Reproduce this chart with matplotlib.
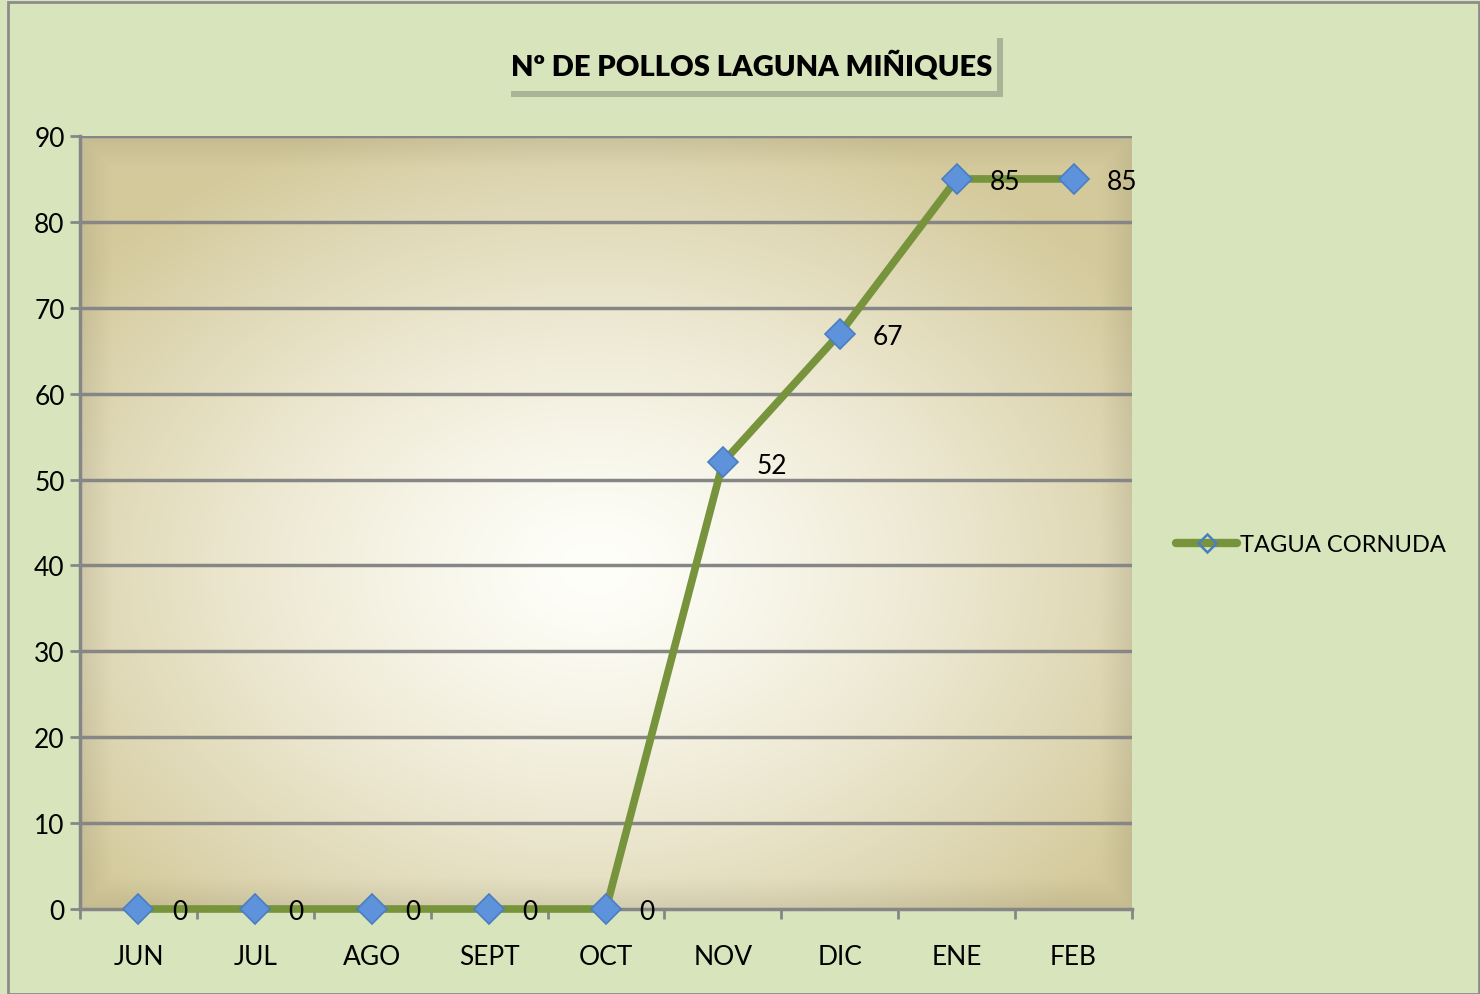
import numpy as np
import matplotlib
matplotlib.use('Agg')
import matplotlib.pyplot as plt
from matplotlib.patches import Rectangle
from matplotlib.lines import Line2D

# data
meses = ['JUN', 'JUL', 'AGO', 'SEPT', 'OCT', 'NOV', 'DIC', 'ENE', 'FEB']
pollos = [0, 0, 0, 0, 0, 52, 67, 85, 85]
serie = 'TAGUA CORNUDA'
titulo = 'Nº DE POLLOS LAGUNA MIÑIQUES'
yticks = [0, 10, 20, 30, 40, 50, 60, 70, 80, 90]

BG = '#D8E4BC'
GREEN = '#77933C'
GRID = '#868686'

plt.rcParams['font.family'] = ['Lato', 'DejaVu Sans']

fig = plt.figure(figsize=(14.8, 9.95), dpi=100, facecolor=BG)

# outer chart border
fig.patches.append(Rectangle((8 / 1480, 0), 1 - 8 / 1480 - 0.001, 1 - 3 / 995,
                             transform=fig.transFigure, fill=False,
                             edgecolor='#8C8C8C', lw=2, zorder=0))

ax = fig.add_axes([80 / 1480, 1 - 910 / 995, 1052 / 1480, 773 / 995])
n = len(meses)
ax.set_xlim(-0.5, n - 0.5)
ax.set_ylim(0, 90)

# radial gradient background of the plot area
ny, nx = 300, 400
gx, gy = np.meshgrid(np.linspace(0, 1, nx), np.linspace(1, 0, ny))
d = np.sqrt(((gx - 0.49) / 0.62) ** 2 + ((gy - 0.44) / 0.62) ** 2)
t = np.clip(d, 0, 1) ** 1.3
white = np.array([1.0, 1.0, 0.98])
tan = np.array([0.83, 0.79, 0.61])
img = white * (1 - t[..., None]) + tan * t[..., None]
# darken the bevel edges a little
edge = np.minimum.reduce([gx / 0.03, (1 - gx) / 0.03, gy / 0.04, (1 - gy) / 0.04])
edge = np.clip(edge, 0, 1)[..., None]
img = img * (0.93 + 0.07 * edge)
ax.imshow(img, extent=[-0.5, n - 0.5, 0, 90], aspect='auto', zorder=0,
          interpolation='bilinear')

for y in yticks[1:]:
    ax.axhline(y, color=GRID, lw=2.5, zorder=1)

for s in ['top', 'right']:
    ax.spines[s].set_visible(False)
for s in ['left', 'bottom']:
    ax.spines[s].set_color(GRID)
    ax.spines[s].set_linewidth(2.5)

x = np.arange(n)
ax.plot(x, pollos, color=GREEN, lw=5.5, zorder=3, solid_capstyle='round',
        clip_on=False)
ax.plot(x, pollos, ls='none', marker='D', ms=15, mfc='#5E93DB',
        mec='#4A7EC0', mew=1.2, zorder=4, clip_on=False)

for xi, v in zip(x, pollos):
    ax.annotate(str(v), (xi, v), xytext=(24, -2), textcoords='offset points',
                ha='left', va='center', fontsize=19, zorder=5)

ax.set_yticks(yticks)
ax.set_yticklabels([str(v) for v in yticks], fontsize=19)
ax.set_xticks(x)
ax.set_xticklabels(meses, fontsize=19)
ax.set_xticks(np.arange(n + 1) - 0.5, minor=True)
ax.tick_params(axis='x', which='major', length=0, pad=25)
ax.tick_params(axis='x', which='minor', length=7, width=2, color=GRID,
               direction='out')
ax.tick_params(axis='y', length=7, width=2, color=GRID, pad=4)

# title box with shadow
fig.patches.append(Rectangle((511 / 1480, 1 - 98 / 995), 492 / 1480, 59 / 995,
                             transform=fig.transFigure, facecolor='#8E937E',
                             edgecolor='none', alpha=0.6, zorder=1))
fig.patches.append(Rectangle((505 / 1480, 1 - 92 / 995), 492 / 1480, 59 / 995,
                             transform=fig.transFigure, facecolor=BG,
                             edgecolor='none', zorder=2))
fig.text(752 / 1480, 1 - 66 / 995, titulo, ha='center', va='center',
         fontsize=21, fontweight='heavy', zorder=3)

# legend
h = Line2D([], [], color=GREEN, lw=6, marker='D', ms=9, mfc='none',
           mec='#4A7EC0', mew=1.8, solid_capstyle='round')
fig.legend([h], [serie], loc='center left',
           bbox_to_anchor=(1176 / 1480, 1 - 546 / 995), frameon=False,
           fontsize=17, handlelength=2.6, handletextpad=0.1, borderaxespad=0,
           borderpad=0)

fig.savefig('out.png', dpi=100, facecolor=BG)
